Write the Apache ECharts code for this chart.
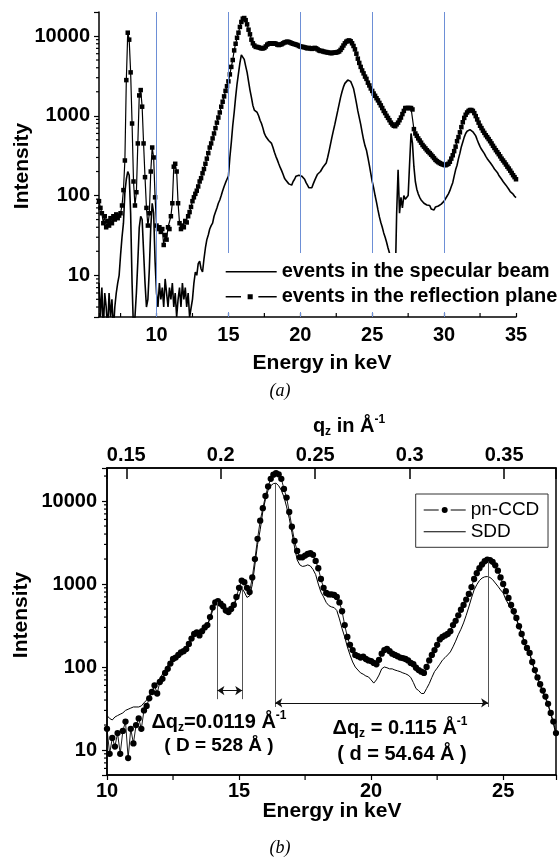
<!DOCTYPE html>
<html>
<head>
<meta charset="utf-8">
<script src="https://cdn.jsdelivr.net/npm/echarts@6/dist/echarts.min.js"></script>
<style>
html, body { margin: 0; padding: 0; background: #fff; }
#chart { width: 559px; height: 860px; }
</style>
</head>
<body>
<div id="chart"></div>
<script>
// ---------- Panel (a): energy-dispersive spectra, 6–35 keV ----------
const energyA = [
  6,6.1,6.2,6.3,6.4,6.5,6.6,6.7,6.8,6.9,
  7,7.1,7.2,7.3,7.4,7.5,7.6,7.7,7.8,7.9,
  8,8.1,8.2,8.3,8.4,8.5,8.6,8.7,8.8,8.9,
  9,9.1,9.2,9.3,9.4,9.5,9.6,9.7,9.8,9.9,
  10,10.1,10.2,10.3,10.4,10.5,10.6,10.7,10.8,10.9,
  11,11.1,11.2,11.3,11.4,11.5,11.6,11.7,11.8,11.9,
  12,12.1,12.2,12.3,12.4,12.5,12.6,12.7,12.8,12.9,
  13,13.1,13.2,13.3,13.4,13.5,13.6,13.7,13.8,13.9,
  14,14.1,14.2,14.3,14.4,14.5,14.6,14.7,14.8,14.9,
  15,15.1,15.2,15.3,15.4,15.5,15.6,15.7,15.8,15.9,
  16,16.1,16.2,16.3,16.4,16.5,16.6,16.7,16.8,16.9,
  17,17.1,17.2,17.3,17.4,17.5,17.6,17.7,17.8,17.9,
  18,18.1,18.2,18.3,18.4,18.5,18.6,18.7,18.8,18.9,
  19,19.1,19.2,19.3,19.4,19.5,19.6,19.7,19.8,19.9,
  20,20.1,20.2,20.3,20.4,20.5,20.6,20.7,20.8,20.9,
  21,21.1,21.2,21.3,21.4,21.5,21.6,21.7,21.8,21.9,
  22,22.1,22.2,22.3,22.4,22.5,22.6,22.7,22.8,22.9,
  23,23.1,23.2,23.3,23.4,23.5,23.6,23.7,23.8,23.9,
  24,24.1,24.2,24.3,24.4,24.5,24.6,24.7,24.8,24.9,
  25,25.1,25.2,25.3,25.4,25.5,25.6,25.7,25.8,25.9,
  26,26.1,26.2,26.3,26.4,26.5,26.6,26.7,26.8,26.9,
  27,27.1,27.2,27.3,27.4,27.5,27.6,27.7,27.8,27.9,
  28,28.1,28.2,28.3,28.4,28.5,28.6,28.7,28.8,28.9,
  29,29.1,29.2,29.3,29.4,29.5,29.6,29.7,29.8,29.9,
  30,30.1,30.2,30.3,30.4,30.5,30.6,30.7,30.8,30.9,
  31,31.1,31.2,31.3,31.4,31.5,31.6,31.7,31.8,31.9,
  32,32.1,32.2,32.3,32.4,32.5,32.6,32.7,32.8,32.9,
  33,33.1,33.2,33.3,33.4,33.5,33.6,33.7,33.8,33.9,
  34,34.1,34.2,34.3,34.4,34.5,34.6,34.7,34.8,34.9,
  35
];

// events in the specular beam (one row per keV)
const specularBeam = [
  8,3,7,2,6,4,2,6,3,5,
  2,4,6,8,10,18,30,45,110,160,
  200,180,60,8,2,3,6,15,40,55,
  50,20,8,4,5,12,40,80,60,15,
  6,4,8,5,7,4,9,6,4,7,
  5,8,4,6,3,5,7,4,8,5,
  7,4,6,3,3,5,8,11,10,14,
  15,12,11,16,22,28,32,38,42,45,
  55,62,70,80,88,100,115,130,145,160,
  175,300,460,750,1100,1700,2500,3400,4600,5800,
  5900,5100,4200,3500,2700,2100,1700,1350,1180,1120,
  1100,1000,880,800,700,600,550,520,490,465,
  450,400,350,310,280,250,225,205,185,165,
  155,150,140,145,135,150,160,175,185,180,
  190,175,185,160,145,135,125,118,125,140,
  155,170,185,190,200,210,230,240,255,300,
  360,440,540,650,780,950,1150,1400,1700,2000,
  2300,2550,2700,2800,2850,2700,2450,2200,1800,1450,
  1150,950,780,620,500,420,370,300,240,190,
  150,125,100,82,66,54,46,40,34,30,
  26,22,19,12,5,4,8,60,210,60,
  95,70,100,90,85,100,250,600,450,230,
  150,120,105,95,88,85,80,82,76,72,
  75,68,70,66,72,68,74,70,78,80,
  85,90,98,105,115,130,145,175,210,240,
  290,340,410,470,540,600,640,660,670,660,
  630,600,560,500,450,410,380,360,335,310,
  290,275,260,245,230,215,205,195,180,170,
  160,150,142,135,128,120,112,106,104,98,
  94
];

// events in the reflection plane (one row per keV)
const reflectionPlane = [
  85,70,60,45,55,40,48,42,52,45,
  55,50,58,52,56,60,75,117,275,2800,
  11000,9000,3500,800,150,75,110,450,1800,2100,
  1300,450,170,70,42,60,200,400,300,95,
  42,38,40,35,38,24,32,28,40,38,
  55,80,230,250,200,80,45,38,42,40,
  48,46,55,62,72,85,95,105,115,130,
  150,165,190,215,250,290,340,400,450,520,
  600,700,820,950,1100,1300,1500,1750,2050,2350,
  2700,3300,4100,5000,6600,8000,9500,11000,13000,15000,
  16500,16800,15800,14000,12000,10500,9000,8100,7600,7300,
  7300,7200,7100,7000,7000,7100,7400,7800,8000,8100,
  8100,8000,8100,8000,7800,7700,7800,7900,8100,8300,
  8400,8500,8400,8300,8100,8000,7900,7800,7700,7500,
  7400,7300,7300,7200,7100,7000,7100,7000,6900,7000,
  7100,7000,6800,6600,6500,6500,6400,6300,6300,6200,
  6200,6100,6100,6200,6200,6200,6300,6400,6700,7100,
  7600,8100,8500,8700,8800,8600,8100,7500,6800,6000,
  5200,4600,4100,3700,3400,3100,2900,2600,2400,2200,
  2050,1900,1780,1660,1560,1450,1350,1250,1150,1080,
  1000,940,880,820,780,750,740,780,820,880,
  950,1050,1150,1250,1250,1250,1250,1250,1200,680,
  600,560,520,490,460,430,410,390,370,355,
  340,325,310,295,280,270,262,255,250,245,
  242,240,245,250,265,290,320,360,410,480,
  540,620,720,830,940,1030,1100,1150,1180,1180,
  1150,1080,990,900,820,750,700,650,610,570,
  540,510,480,450,420,395,370,350,330,310,
  290,275,260,245,230,218,205,192,180,170,
  160
];

// guide lines across panel (a), keV
const guideEnergies = [10, 15, 20, 25, 30];

// ---------- Panel (b): pn-CCD vs SDD, 10–27 keV ----------
const energyB = [
  10,10.1,10.2,10.3,10.4,10.5,10.6,10.7,10.8,10.9,
  11,11.1,11.2,11.3,11.4,11.5,11.6,11.7,11.8,11.9,
  12,12.1,12.2,12.3,12.4,12.5,12.6,12.7,12.8,12.9,
  13,13.1,13.2,13.3,13.4,13.5,13.6,13.7,13.8,13.9,
  14,14.1,14.2,14.3,14.4,14.5,14.6,14.7,14.8,14.9,
  15,15.1,15.2,15.3,15.4,15.5,15.6,15.7,15.8,15.9,
  16,16.1,16.2,16.3,16.4,16.5,16.6,16.7,16.8,16.9,
  17,17.1,17.2,17.3,17.4,17.5,17.6,17.7,17.8,17.9,
  18,18.1,18.2,18.3,18.4,18.5,18.6,18.7,18.8,18.9,
  19,19.1,19.2,19.3,19.4,19.5,19.6,19.7,19.8,19.9,
  20,20.1,20.2,20.3,20.4,20.5,20.6,20.7,20.8,20.9,
  21,21.1,21.2,21.3,21.4,21.5,21.6,21.7,21.8,21.9,
  22,22.1,22.2,22.3,22.4,22.5,22.6,22.7,22.8,22.9,
  23,23.1,23.2,23.3,23.4,23.5,23.6,23.7,23.8,23.9,
  24,24.1,24.2,24.3,24.4,24.5,24.6,24.7,24.8,24.9,
  25,25.1,25.2,25.3,25.4,25.5,25.6,25.7,25.8,25.9,
  26,26.1,26.2,26.3,26.4,26.5,26.6,26.7,26.8,26.9,
  27
];

const pnCCD = [
  18,9,14,11,16,9,17,22,8,18,
  12,20,24,18,30,34,42,50,60,48,
  66,72,85,95,110,125,130,140,150,155,
  165,190,220,250,262,240,270,300,320,400,
  520,600,620,580,540,480,460,500,560,700,
  900,1100,1050,900,800,1200,2000,3500,5800,8200,
  11500,15000,18500,20800,21700,21000,18500,14000,11000,7400,
  4900,3300,2500,2100,2100,2200,2300,2350,2250,1900,
  1550,1150,900,780,750,750,740,700,600,470,
  320,230,185,160,140,135,130,133,125,120,
  118,112,108,122,145,160,165,155,145,140,
  135,130,128,125,120,112,108,98,92,88,
  85,100,120,140,160,185,215,230,240,250,
  270,320,360,420,490,560,650,760,920,1150,
  1350,1550,1720,1880,1960,1940,1850,1680,1450,1200,
  1000,820,680,560,470,390,310,250,200,170,
  148,115,92,75,62,52,44,36,28,22,
  16
];

const sdd = [
  26,24,23,25,26,27,28,30,31,32,
  33,33,33,34,37,40,45,52,58,65,
  72,82,92,105,118,125,128,130,138,150,
  165,190,215,235,250,263,280,300,320,380,
  480,560,590,570,520,480,460,490,560,650,
  710,900,800,690,720,980,1700,3000,4500,7500,
  10500,13500,15300,16200,16400,15300,13500,11200,8500,6200,
  4200,2800,1950,1700,1630,1650,1700,1650,1500,1300,
  1000,800,700,600,550,530,520,480,380,290,
  230,175,140,115,100,92,85,82,78,76,
  70,64,70,80,95,100,98,95,95,92,
  90,88,85,83,80,75,65,55,52,48,
  48,55,63,75,88,97,108,121,130,140,
  152,175,205,245,285,340,420,530,680,850,
  980,1100,1180,1220,1230,1200,1130,1030,940,850,
  780,650,570,500,430,370,310,255,205,165,
  145,112,90,73,60,50,42,35,27,21,
  15
];

// q_z per keV for the top axis (q_z is proportional to photon energy)
const qPerKeV = 0.01398;

// peak-spacing markers: [energy, lower intensity, upper intensity]
const fringeLines = [[14.18, 41, 610], [15.12, 41, 940]];
const fringeArrow = [14.18, 15.12, 52];
const braggLines = [[16.37, 33, 16000], [24.43, 33, 1870]];
const braggArrow = [16.37, 24.43, 37];

// ---------- helpers ----------
const FONT = "'Liberation Sans', Arial, Helvetica, sans-serif";
const zip = (xs, ys) => xs.map((x, i) => [x, ys[i]]);
const decadeLabel = v => {
  const l = Math.log10(v);
  return Math.abs(l - Math.round(l)) < 1e-6 ? String(Math.round(Math.pow(10, Math.round(l)))) : '';
};
const stepLabel = step => v => {
  const k = v / step;
  return Math.abs(k - Math.round(k)) < 1e-6 ? String(+v.toFixed(2)) : '';
};
function logMinors(lo, hi) {
  const out = [];
  for (let d = 1; d <= 10000; d *= 10) {
    for (let m = 2; m <= 9; m++) {
      const v = m * d;
      if (v > lo && v < hi) out.push(v);
    }
  }
  return out;
}
// short tick segments drawn through the axes' own scales
function tickSeries(xi, yi, data, dx, dy) {
  return {
    type: 'custom', coordinateSystem: 'cartesian2d', xAxisIndex: xi, yAxisIndex: yi,
    silent: true, z: 5, clip: false, data: data,
    renderItem: (params, api) => {
      const p = api.coord([api.value(0), api.value(1)]);
      return { type: 'line', shape: { x1: p[0], y1: p[1], x2: p[0] + dx, y2: p[1] + dy },
        style: { stroke: '#000', lineWidth: 1.2 } };
    }
  };
}

const axA = { xMin: 6, xMax: 35, yMin: 3, yMax: 20000 };
const axB = { xMin: 10, xMax: 27, yMin: 5, yMax: 25000 };

const labelStyle = { color: '#000', fontFamily: FONT, fontWeight: 'bold', fontSize: 20 };
const axisLine = { show: true, onZero: false, lineStyle: { color: '#000', width: 1.5 } };

const chart = echarts.init(document.getElementById('chart'), null, { renderer: 'canvas' });

const ruleStyle = { color: '#555', width: 1, type: 'solid' };
const subSup = {
  t: { font: `bold 20px ${FONT}`, lineHeight: 24 },
  s: { font: `bold 12px ${FONT}`, verticalAlign: 'bottom' },
  p: { font: `bold 12px ${FONT}`, verticalAlign: 'top' }
};

chart.setOption({
  animation: false,
  backgroundColor: '#fff',
  grid: [
    { left: 99, top: 12, width: 417, height: 305 },
    { left: 107, top: 468, width: 450, height: 307, show: true, borderColor: '#000', borderWidth: 1.5, backgroundColor: 'transparent' }
  ],
  xAxis: [
    { gridIndex: 0, type: 'value', min: axA.xMin, max: axA.xMax, splitNumber: 5,
      axisLine: axisLine, splitLine: { show: false },
      axisTick: { inside: true, length: 4, lineStyle: { color: '#000', width: 1.2 } },
      axisLabel: Object.assign({ margin: 8, formatter: stepLabel(5) }, labelStyle) },
    { gridIndex: 1, type: 'value', min: axB.xMin, max: axB.xMax, interval: 5,
      axisLine: axisLine, splitLine: { show: false },
      axisTick: { inside: false, length: 5, lineStyle: { color: '#000', width: 1.2 } },
      axisLabel: Object.assign({ margin: 6, formatter: stepLabel(5) }, labelStyle) },
    { gridIndex: 1, type: 'value', position: 'top', min: qPerKeV * axB.xMin, max: qPerKeV * axB.xMax, splitNumber: 5,
      axisLine: axisLine, splitLine: { show: false },
      axisTick: { inside: true, length: 11, lineStyle: { color: '#000', width: 1.5 } },
      axisLabel: Object.assign({ margin: 3, formatter: stepLabel(0.05) }, labelStyle) }
  ],
  yAxis: [
    { gridIndex: 0, type: 'log', logBase: 10, min: axA.yMin, max: axA.yMax,
      axisLine: axisLine, splitLine: { show: false },
      axisTick: { inside: false, length: 5, lineStyle: { color: '#000', width: 1.2 } },
      axisLabel: Object.assign({ margin: 9, formatter: decadeLabel }, labelStyle) },
    { gridIndex: 1, type: 'log', logBase: 10, min: axB.yMin, max: axB.yMax,
      axisLine: axisLine, splitLine: { show: false },
      axisTick: { inside: false, length: 5, lineStyle: { color: '#000', width: 1.2 } },
      axisLabel: Object.assign({ margin: 10, formatter: decadeLabel }, labelStyle) }
  ],
  legend: [
    { data: [
        { name: 'events in the specular beam', icon: 'path://M0,2.2H50V3.8H0Z' },
        { name: 'events in the reflection plane', icon: 'path://M0,2.3H15V3.7H0Z M21.5,0.5H26.5V5.5H21.5Z M32,2.3H50V3.7H32Z' }
      ],
      orient: 'vertical', left: 218, top: 253, padding: [8.7, 2, 5.3, 7.7], itemGap: 5,
      itemWidth: 51, itemHeight: 6, backgroundColor: '#fff', selectedMode: false, z: 6,
      textStyle: { color: '#000', fontFamily: FONT, fontWeight: 'bold', fontSize: 20 } },
    { data: [
        { name: 'pn-CCD', icon: 'path://M0,2.5H15V3.5H0Z M18,3a3,3 0 1,0 6,0a3,3 0 1,0 -6,0Z M27,2.5H42V3.5H27Z' },
        { name: 'SDD', icon: 'path://M0,2.5H42V3.5H0Z' }
      ],
      orient: 'vertical', left: 415.7, top: 494, padding: [6.5, 8.7, 6.1, 8], itemGap: 2.7,
      itemWidth: 42, itemHeight: 6, backgroundColor: '#fff', borderColor: '#333', borderWidth: 1,
      selectedMode: false, z: 6,
      textStyle: { color: '#000', fontFamily: FONT, fontSize: 19 } }
  ],
  series: [
    { name: 'events in the specular beam', type: 'line', xAxisIndex: 0, yAxisIndex: 0,
      data: zip(energyA, specularBeam), symbol: 'none', color: '#000',
      lineStyle: { color: '#000', width: 1.6 }, z: 3,
      markLine: { silent: true, symbol: 'none', label: { show: false },
        lineStyle: { color: '#6d8fd6', width: 1, type: 'solid' },
        data: guideEnergies.map(e => ({ xAxis: e })) } },
    { name: 'events in the reflection plane', type: 'line', xAxisIndex: 0, yAxisIndex: 0,
      data: zip(energyA, reflectionPlane), symbol: 'rect', symbolSize: 4.5, color: '#000',
      itemStyle: { color: '#000' }, lineStyle: { color: '#000', width: 1.2 }, z: 3 },
    { name: 'pn-CCD', type: 'line', xAxisIndex: 1, yAxisIndex: 1,
      data: zip(energyB, pnCCD), symbol: 'circle', symbolSize: 6.3, color: '#000',
      itemStyle: { color: '#000' }, lineStyle: { color: '#000', width: 0.9 }, z: 3 },
    { name: 'SDD', type: 'line', xAxisIndex: 1, yAxisIndex: 1,
      data: zip(energyB, sdd), symbol: 'none', color: '#000',
      lineStyle: { color: '#000', width: 1 }, z: 3,
      markLine: { silent: true, symbol: 'none', symbolSize: 7, label: { show: false },
        lineStyle: ruleStyle,
        data: [
          ...fringeLines.map(r => [{ coord: [r[0], r[1]] }, { coord: [r[0], r[2]] }]),
          ...braggLines.map(r => [{ coord: [r[0], r[1]] }, { coord: [r[0], r[2]] }]),
          [{ coord: [fringeArrow[0], fringeArrow[2]], symbol: 'arrow', lineStyle: { color: '#111' } },
           { coord: [fringeArrow[1], fringeArrow[2]], symbol: 'arrow' }],
          [{ coord: [braggArrow[0], braggArrow[2]], symbol: 'arrow', lineStyle: { color: '#111' } },
           { coord: [braggArrow[1], braggArrow[2]], symbol: 'arrow' }]
        ] } },
    // minor ticks
    tickSeries(0, 0, logMinors(axA.yMin, axA.yMax).map(v => [axA.xMin, v]), -3, 0),
    tickSeries(0, 0, [7.5, 12.5, 17.5, 22.5, 27.5, 32.5].map(e => [e, axA.yMin]), 0, -4),
    tickSeries(1, 1, logMinors(axB.yMin, axB.yMax).map(v => [axB.xMin, v]), -3, 0),
    tickSeries(1, 1, [12.5, 17.5, 22.5].map(e => [e, axB.yMin]), 0, 5)
  ],
  graphic: [
    { type: 'text', x: 22, y: 166, rotation: Math.PI / 2, silent: true,
      style: { text: 'Intensity', font: `bold 21px ${FONT}`, align: 'center', verticalAlign: 'middle', fill: '#000' } },
    { type: 'text', x: 322, y: 363, silent: true,
      style: { text: 'Energy in keV', font: `bold 21px ${FONT}`, align: 'center', verticalAlign: 'middle', fill: '#000' } },
    { type: 'text', x: 280, y: 391, silent: true,
      style: { text: '(a)', font: `italic 18px 'Liberation Serif', 'Times New Roman', serif`, align: 'center', verticalAlign: 'middle', fill: '#000' } },
    { type: 'text', x: 21, y: 615, rotation: Math.PI / 2, silent: true,
      style: { text: 'Intensity', font: `bold 21px ${FONT}`, align: 'center', verticalAlign: 'middle', fill: '#000' } },
    { type: 'text', x: 332, y: 811, silent: true,
      style: { text: 'Energy in keV', font: `bold 21px ${FONT}`, align: 'center', verticalAlign: 'middle', fill: '#000' } },
    { type: 'text', x: 280, y: 848, silent: true,
      style: { text: '(b)', font: `italic 18px 'Liberation Serif', 'Times New Roman', serif`, align: 'center', verticalAlign: 'middle', fill: '#000' } },
    { type: 'text', x: 349, y: 426, silent: true,
      style: { text: '{t|q}{s|z}{t| in Å}{p|-1}', align: 'center', verticalAlign: 'middle', fill: '#000', rich: subSup } },
    { type: 'text', x: 219, y: 722, silent: true,
      style: { text: '{t|Δq}{s|z}{t|=0.0119 Å}{p|-1}', align: 'center', verticalAlign: 'middle', fill: '#000', rich: subSup } },
    { type: 'text', x: 219, y: 746, silent: true,
      style: { text: '( D = 528 Å )', font: `bold 19px ${FONT}`, align: 'center', verticalAlign: 'middle', fill: '#000' } },
    { type: 'text', x: 400, y: 728, silent: true,
      style: { text: '{t|Δq}{s|z}{t| = 0.115 Å}{p|-1}', align: 'center', verticalAlign: 'middle', fill: '#000', rich: subSup } },
    { type: 'text', x: 402, y: 754, silent: true,
      style: { text: '( d = 54.64 Å )', font: `bold 20px ${FONT}`, align: 'center', verticalAlign: 'middle', fill: '#000' } }
  ]
});
</script>
</body>
</html>
